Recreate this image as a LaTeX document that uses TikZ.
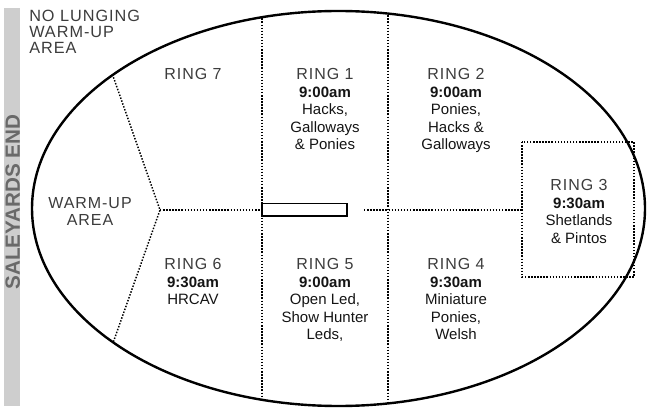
\documentclass[tikz,border=0pt]{standalone}
\usepackage{fontspec}
\setmainfont{Liberation Sans}
\newfontfamily\ringfont[LetterSpace=6]{Liberation Sans}
\usepackage{tikz}
\usetikzlibrary{positioning,calc}
\definecolor{barfill}{RGB}{206,206,206}
\definecolor{bartext}{RGB}{105,105,105}
\definecolor{ringgray}{RGB}{60,60,60}
\definecolor{inktext}{RGB}{20,20,20}
\tikzset{
  % Text block of one ring
  ringtxt/.style={align=center, anchor=north, inner sep=0pt, text=inktext,
                  font=\fontsize{11.25}{13.2}\selectfont},
  % Plain note text
  notetxt/.style={align=left, anchor=north west, inner sep=0pt, text=ringgray,
                  font=\ringfont\fontsize{12.2}{12.2}\selectfont},
  % Dotted divider
  divline/.style={line width=1.1pt, dash pattern=on 1.1pt off 1.2pt},
  % Arena outline
  arena/.style={line width=1.8pt, draw=black},
}
\newcommand{\ringname}[1]{{\ringfont\color{ringgray}\fontsize{12}{13.2}\selectfont #1}\\}
\newcommand{\ringtime}[1]{{\bfseries #1}\\}

\begin{document}
\begin{tikzpicture}[x=0.75pt,y=-0.75pt]
    \useasboundingbox (0,0) rectangle (648,409);

    %% ── Saleyards end bar ─────────────────────────────────
    \fill[barfill] (4,8) rectangle (20,406);
    \node[rotate=90, inner sep=0pt, text=bartext,
          font=\fontsize{15.5}{15.5}\selectfont\bfseries] (saleyards) at (12.8,202) {SALEYARDS END};

    %% ── Dividers inside the arena ─────────────────────────
    \coordinate (apex)   at (160,210);
    \coordinate (cutL)   at (262,210);
    \coordinate (cutR)   at (364,210);
    \begin{scope}
      \clip (338.5,208.5) ellipse [x radius=306.5, y radius=197.5];
      \draw[divline] ($(apex)!1.25!(113,76)$) -- (apex) -- ($(apex)!1.25!(113,343)$);
      \draw[divline] (262,0) -- (262,409);
      \draw[divline] (388,0) -- (388,409);
    \end{scope}
    \draw[divline] (apex) -- (cutL);
    \draw[divline] (cutR) -- (522,210);

    %% Ring 3 box and centre stand
    \draw[divline] (522,142) rectangle (634,277);
    \draw[line width=0.8pt,fill=white] (262,203.5) rectangle (347,216);

    %% Arena outline
    \draw[arena] (338.5,208.5) ellipse [x radius=306.5, y radius=197.5];

    %% ── Labels ────────────────────────────────────────────
    \node[notetxt] (nolunge) at (29,9.5) {NO LUNGING\\WARM-UP\\AREA};
    \node[ringtxt] (warmup) at (90,197)
         {\ringname{WARM-UP}\ringname{AREA}};

    \node[ringtxt] (ring7) at (193,68) {\ringname{RING 7}};
    \node[ringtxt] (ring1) at (325,68)
         {\ringname{RING 1}\ringtime{9:00am}Hacks,\\Galloways\\\& Ponies};
    \node[ringtxt] (ring2) at (456,68)
         {\ringname{RING 2}\ringtime{9:00am}Ponies,\\Hacks \&\\Galloways};
    \node[ringtxt] (ring3) at (579,179)
         {\ringname{RING 3}\ringtime{9:30am}Shetlands\\\& Pintos};
    \node[ringtxt] (ring6) at (193,258)
         {\ringname{RING 6}\ringtime{9:30am}HRCAV};
    \node[ringtxt] (ring5) at (325,258)
         {\ringname{RING 5}\ringtime{9:00am}Open Led,\\Show Hunter\\Leds,};
    \node[ringtxt] (ring4) at (456,258)
         {\ringname{RING 4}\ringtime{9:30am}Miniature\\Ponies,\\Welsh};

  \end{tikzpicture}
\end{document}
